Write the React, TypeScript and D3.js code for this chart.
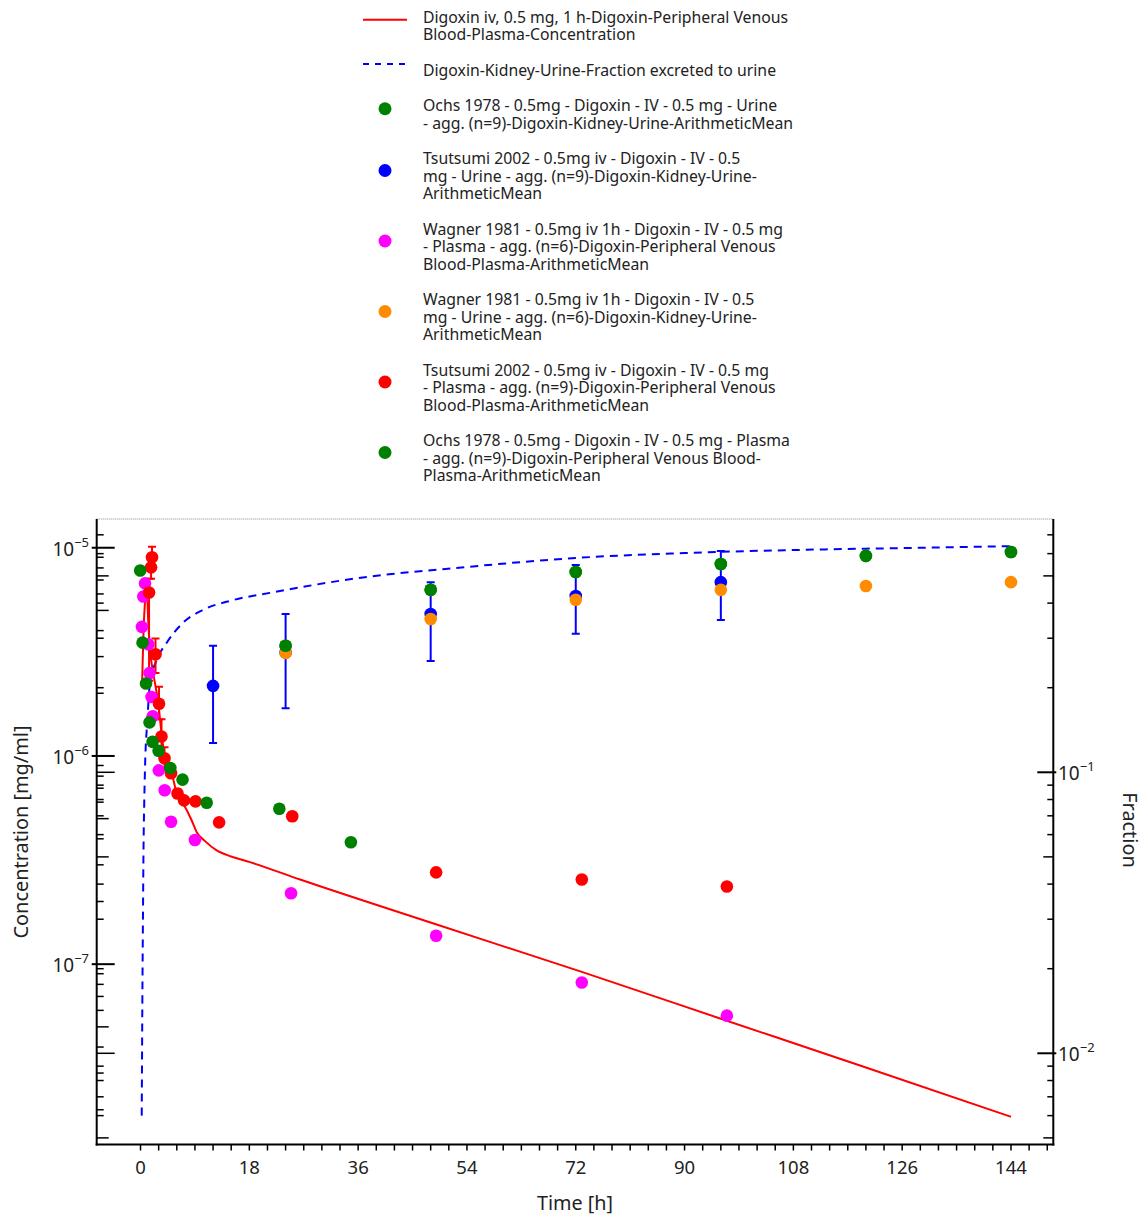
import React from "react";
import * as d3 from "d3";

// ---------- data ----------
const simConcTime = [0.25, 0.5, 0.75, 1.0, 1.25, 1.5, 2.0, 2.5, 2.94, 3.5, 4.05, 5.16, 5.99, 7.03, 8.47, 9.3, 10.67, 12.6, 15.0, 18.1, 26.4, 48.1, 73.0, 96.0, 120.0, 144.0];
const simConcValue = [2.2e-6, 4.0e-6, 5.6e-6, 6.8e-6, 4.6e-6, 3.4e-6, 2.6e-6, 2.15e-6, 1.79e-6, 1.26e-6, 9.75e-7, 8.26e-7, 6.62e-7, 5.92e-7, 4.9e-7, 4.3e-7, 3.9e-7, 3.52e-7, 3.29e-7, 3.09e-7, 2.55e-7, 1.58e-7, 9.18e-8, 5.47e-8, 3.19e-8, 1.85e-8];

const simFracTime = [0.2, 0.3, 0.4, 0.5, 0.6, 0.75, 1.13, 1.57, 2.68, 4.33, 7.0, 10.3, 15.3, 21.4, 36, 54, 72, 90, 108, 126, 144];
const simFracValue = [0.006, 0.015, 0.03, 0.055, 0.075, 0.105, 0.153, 0.208, 0.251, 0.289, 0.34, 0.378, 0.41, 0.435, 0.491, 0.538, 0.579, 0.603, 0.618, 0.628, 0.638];

const ochsUrineTime = [24, 48, 72, 96, 120, 144];
const ochsUrineValue = [0.282, 0.446, 0.516, 0.551, 0.589, 0.608];

const tsutsumiUrineTime = [12, 24, 48, 72, 96];
const tsutsumiUrineValue = [0.203, 0.267, 0.366, 0.424, 0.475];
const tsutsumiUrineLow = [0.127, 0.169, 0.249, 0.311, 0.348];
const tsutsumiUrineHigh = [0.282, 0.366, 0.475, 0.547, 0.613];

const wagnerPlasmaTime = [0.23, 0.46, 0.74, 1.28, 1.49, 1.82, 2.03, 3.02, 4.0, 5.05, 9.0, 24.9, 48.9, 73.0, 97.0];
const wagnerPlasmaValue = [4.17e-6, 5.83e-6, 6.74e-6, 3.44e-6, 2.5e-6, 1.92e-6, 1.55e-6, 8.53e-7, 6.84e-7, 4.83e-7, 3.95e-7, 2.19e-7, 1.37e-7, 8.17e-8, 5.66e-8];

const wagnerUrineTime = [24, 48, 72, 96, 120, 144];
const wagnerUrineValue = [0.266, 0.351, 0.411, 0.446, 0.46, 0.475];

const tsutsumiPlasmaTime = [1.41, 1.74, 1.9, 2.48, 3.06, 3.47, 3.97, 5.05, 6.12, 7.2, 9.1, 13.0, 25.1, 48.9, 73.0, 97.0];
const tsutsumiPlasmaValue = [6.1e-6, 8.05e-6, 9.0e-6, 3.08e-6, 1.78e-6, 1.24e-6, 9.75e-7, 8.26e-7, 6.6e-7, 6.12e-7, 6.05e-7, 4.8e-7, 5.13e-7, 2.76e-7, 2.55e-7, 2.36e-7];
const tsutsumiPlasmaLow = [2.3e-6, 7.1e-6, 8.0e-6, 2.5e-6, 1.5e-6, 1.0e-6, 8.7e-7, 7.9e-7, 6.3e-7, 5.9e-7, 5.8e-7, 4.6e-7, 4.9e-7, 2.65e-7, 2.45e-7, 2.27e-7];
const tsutsumiPlasmaHigh = [7.1e-6, 9.0e-6, 1.01e-5, 3.67e-6, 2.15e-6, 1.5e-6, 1.1e-6, 8.6e-7, 6.9e-7, 6.35e-7, 6.3e-7, 5.0e-7, 5.35e-7, 2.87e-7, 2.65e-7, 2.45e-7];

const ochsPlasmaTime = [-0.05, 0.33, 0.91, 1.49, 1.99, 2.98, 4.93, 6.95, 10.95, 22.96, 34.8];
const ochsPlasmaValue = [7.78e-6, 3.5e-6, 2.23e-6, 1.45e-6, 1.17e-6, 1.06e-6, 8.75e-7, 7.7e-7, 5.96e-7, 5.58e-7, 3.85e-7];

const xTickValues = [0, 18, 36, 54, 72, 90, 108, 126, 144];

const legendItems = [
  { kind: "line", color: "#ff0000", dash: "", lines: ["Digoxin iv, 0.5 mg, 1 h-Digoxin-Peripheral Venous", "Blood-Plasma-Concentration"] },
  { kind: "line", color: "#0000ff", dash: "6,6", lines: ["Digoxin-Kidney-Urine-Fraction excreted to urine"] },
  { kind: "dot", color: "#008000", lines: ["Ochs 1978 - 0.5mg - Digoxin - IV - 0.5 mg - Urine", "- agg. (n=9)-Digoxin-Kidney-Urine-ArithmeticMean"] },
  { kind: "dot", color: "#0000ff", lines: ["Tsutsumi 2002 - 0.5mg iv - Digoxin - IV - 0.5", "mg - Urine - agg. (n=9)-Digoxin-Kidney-Urine-", "ArithmeticMean"] },
  { kind: "dot", color: "#ff00ff", lines: ["Wagner 1981 - 0.5mg iv 1h - Digoxin - IV - 0.5 mg", "- Plasma - agg. (n=6)-Digoxin-Peripheral Venous", "Blood-Plasma-ArithmeticMean"] },
  { kind: "dot", color: "#ff8c00", lines: ["Wagner 1981 - 0.5mg iv 1h - Digoxin - IV - 0.5", "mg - Urine - agg. (n=6)-Digoxin-Kidney-Urine-", "ArithmeticMean"] },
  { kind: "dot", color: "#ff0000", lines: ["Tsutsumi 2002 - 0.5mg iv - Digoxin - IV - 0.5 mg", "- Plasma - agg. (n=9)-Digoxin-Peripheral Venous", "Blood-Plasma-ArithmeticMean"] },
  { kind: "dot", color: "#008000", lines: ["Ochs 1978 - 0.5mg - Digoxin - IV - 0.5 mg - Plasma", "- agg. (n=9)-Digoxin-Peripheral Venous Blood-", "Plasma-ArithmeticMean"] },
];

// ---------- layout ----------
const W = 1146;
const H = 1218;
const L = 96.7, R = 1053.3, T = 519, B = 1144.5;
const FONT = "'Noto Sans', 'Open Sans', sans-serif";

const x = d3.scaleLinear().domain([-7.25, 151.0]).range([L, R]);
const yL = d3.scaleLog().domain([Math.pow(10, -7.866), Math.pow(10, -4.862)]).range([B, T]);
const yR = d3.scaleLog().domain([Math.pow(10, -2.3246), Math.pow(10, -0.0986)]).range([B, T]);

function zip(t: number[], v: number[]) {
  return t.map((tt, i) => [tt, v[i]] as [number, number]);
}

function logTicks(scale: any) {
  const [a, b] = scale.domain();
  const out: { v: number; m: number; e: number }[] = [];
  for (let e = Math.floor(Math.log10(a)); e <= Math.ceil(Math.log10(b)); e++) {
    for (let m = 1; m <= 9; m++) {
      const v = m * Math.pow(10, e);
      if (v >= a && v <= b) out.push({ v, m, e });
    }
  }
  return out;
}

function Pow10({ xPos, yPos, e, anchor }: { xPos: number; yPos: number; e: number; anchor: string }) {
  return (
    <text x={xPos} y={yPos} fontFamily={FONT} fontSize={19} textAnchor={anchor} fill="#222">
      10<tspan dy={-9} fontSize={13}>{"\u2212" + Math.abs(e)}</tspan>
    </text>
  );
}

export default function App() {
  const concLine = d3.line<[number, number]>().x((d) => x(d[0])).y((d) => yL(d[1])).curve(d3.curveMonotoneX);
  const fracLine = d3.line<[number, number]>().x((d) => x(d[0])).y((d) => yR(d[1])).curve(d3.curveMonotoneX);

  const leftTicks = logTicks(yL);
  const rightTicks = logTicks(yR);
  const xMinor = d3.range(0, 151, 3);

  // legend layout
  let cy = 17;
  const legendRows: any[] = [];
  legendItems.forEach((it) => {
    const first = cy;
    const last = cy + (it.lines.length - 1) * 17.5;
    const sym = (first + last) / 2 - 6.5;
    legendRows.push({ ...it, first, sym });
    cy = last + 35.5;
  });

  const r = 6.3;

  return (
    <svg width={W} height={H} style={{ position: "absolute", left: 0, top: 0, background: "#fff" }}>
      <defs>
        <clipPath id="plot">
          <rect x={L} y={T} width={R - L} height={B - T} />
        </clipPath>
      </defs>

      {/* legend */}
      {legendRows.map((it, i) => (
        <g key={i}>
          {it.kind === "line" ? (
            <line x1={363} x2={407} y1={it.sym + 0.5} y2={it.sym + 0.5} stroke={it.color} strokeWidth={2} strokeDasharray={it.dash} />
          ) : (
            <circle cx={385} cy={it.sym + 1} r={6.5} fill={it.color} />
          )}
          {it.lines.map((ln: string, j: number) => (
            <text key={j} x={423} y={it.first + j * 17.5 + 5.5} fontFamily={FONT} fontSize={15.8} fill="#222">
              {ln}
            </text>
          ))}
        </g>
      ))}

      {/* top dotted border */}
      <line x1={L} x2={R} y1={T} y2={T} stroke="#888" strokeWidth={1} strokeDasharray="1,1" />

      <g clipPath="url(#plot)">
        {/* simulated fraction (dashed blue) */}
        <path d={fracLine(zip(simFracTime, simFracValue)) || ""} fill="none" stroke="#0000ff" strokeWidth={2} strokeDasharray="8,6" />
        {/* simulated concentration */}
        <path d={concLine(zip(simConcTime, simConcValue)) || ""} fill="none" stroke="#ff0000" strokeWidth={2} />

        {/* Tsutsumi urine error bars */}
        {tsutsumiUrineTime.map((t, i) => (
          <g key={"tue" + i} stroke="#0000ff" strokeWidth={2}>
            <line x1={x(t)} x2={x(t)} y1={yR(tsutsumiUrineLow[i])} y2={yR(tsutsumiUrineHigh[i])} />
            <line x1={x(t) - 4} x2={x(t) + 4} y1={yR(tsutsumiUrineLow[i])} y2={yR(tsutsumiUrineLow[i])} />
            <line x1={x(t) - 4} x2={x(t) + 4} y1={yR(tsutsumiUrineHigh[i])} y2={yR(tsutsumiUrineHigh[i])} />
          </g>
        ))}
        {/* Tsutsumi plasma error bars */}
        {tsutsumiPlasmaTime.map((t, i) => (
          <g key={"tpe" + i} stroke="#ff0000" strokeWidth={2}>
            <line x1={x(t)} x2={x(t)} y1={yL(tsutsumiPlasmaLow[i])} y2={yL(tsutsumiPlasmaHigh[i])} />
            <line x1={x(t) - 4} x2={x(t) + 4} y1={yL(tsutsumiPlasmaLow[i])} y2={yL(tsutsumiPlasmaLow[i])} />
            <line x1={x(t) - 4} x2={x(t) + 4} y1={yL(tsutsumiPlasmaHigh[i])} y2={yL(tsutsumiPlasmaHigh[i])} />
          </g>
        ))}

        {/* points in legend order */}
        {ochsUrineTime.map((t, i) => <circle key={"ou" + i} cx={x(t)} cy={yR(ochsUrineValue[i])} r={r} fill="#008000" />)}
        {tsutsumiUrineTime.map((t, i) => <circle key={"tu" + i} cx={x(t)} cy={yR(tsutsumiUrineValue[i])} r={r} fill="#0000ff" />)}
        {wagnerPlasmaTime.map((t, i) => <circle key={"wp" + i} cx={x(t)} cy={yL(wagnerPlasmaValue[i])} r={r} fill="#ff00ff" />)}
        {wagnerUrineTime.map((t, i) => <circle key={"wu" + i} cx={x(t)} cy={yR(wagnerUrineValue[i])} r={r} fill="#ff8c00" />)}
        {tsutsumiPlasmaTime.map((t, i) => <circle key={"tp" + i} cx={x(t)} cy={yL(tsutsumiPlasmaValue[i])} r={r} fill="#ff0000" />)}
        {ochsPlasmaTime.map((t, i) => <circle key={"op" + i} cx={x(t)} cy={yL(ochsPlasmaValue[i])} r={r} fill="#008000" />)}
        {ochsUrineTime.map((t, i) => <circle key={"ou2" + i} cx={x(t)} cy={yR(ochsUrineValue[i])} r={r} fill="#008000" />)}
      </g>

      {/* axes lines */}
      <line x1={L} x2={L} y1={T} y2={B + 1} stroke="#000" strokeWidth={2} />
      <line x1={R} x2={R} y1={T} y2={B + 1} stroke="#000" strokeWidth={2} />
      <line x1={L - 1} x2={R + 1} y1={B} y2={B} stroke="#000" strokeWidth={2} />

      {/* x ticks */}
      {xMinor.map((t) => (
        <line key={"xt" + t} x1={x(t)} x2={x(t)} y1={B} y2={B + 6} stroke="#000" strokeWidth={1.5} />
      ))}
      {xTickValues.map((t) => (
        <text key={"xl" + t} x={x(t)} y={1174} textAnchor="middle" fontFamily={FONT} fontSize={18.5} fill="#222">
          {t}
        </text>
      ))}
      <text x={(L + R) / 2} y={1210} textAnchor="middle" fontFamily={FONT} fontSize={19.8} fill="#222">
        Time [h]
      </text>

      {/* left axis ticks: own */}
      {leftTicks.map((tk, i) => {
        const yy = yL(tk.v);
        if (tk.m === 1)
          return <line key={"lt" + i} x1={L - 5} x2={L + 18} y1={yy} y2={yy} stroke="#000" strokeWidth={2} />;
        const len = tk.m === 5 ? 12 : 7;
        return <line key={"lt" + i} x1={L} x2={L + len} y1={yy} y2={yy} stroke="#000" strokeWidth={1.5} />;
      })}
      {/* left axis: mirrored right-axis ticks */}
      {rightTicks.map((tk, i) => {
        const yy = yR(tk.v);
        const len = tk.m === 1 ? 18 : tk.m === 5 ? 12 : 7;
        return <line key={"lrt" + i} x1={L} x2={L + len} y1={yy} y2={yy} stroke="#000" strokeWidth={1.5} />;
      })}
      {leftTicks.filter((tk) => tk.m === 1).map((tk, i) => (
        <Pow10 key={"ll" + i} xPos={89} yPos={yL(tk.v) + 8} e={tk.e} anchor="end" />
      ))}
      <text transform={`translate(28,832) rotate(-90)`} textAnchor="middle" fontFamily={FONT} fontSize={19.9} fill="#222">
        Concentration [mg/ml]
      </text>

      {/* right axis ticks */}
      {rightTicks.map((tk, i) => {
        const yy = yR(tk.v);
        if (tk.m === 1)
          return <line key={"rt" + i} x1={R - 16} x2={R + 3} y1={yy} y2={yy} stroke="#000" strokeWidth={2} />;
        const len = tk.m === 5 ? 10 : 6;
        return <line key={"rt" + i} x1={R - len} x2={R} y1={yy} y2={yy} stroke="#000" strokeWidth={1.5} />;
      })}
      {rightTicks.filter((tk) => tk.m === 1).map((tk, i) => (
        <Pow10 key={"rl" + i} xPos={1058} yPos={yR(tk.v) + 8} e={tk.e} anchor="start" />
      ))}
      <text transform={`translate(1123,830) rotate(90)`} textAnchor="middle" fontFamily={FONT} fontSize={19.9} fill="#222">
        Fraction
      </text>
    </svg>
  );
}
